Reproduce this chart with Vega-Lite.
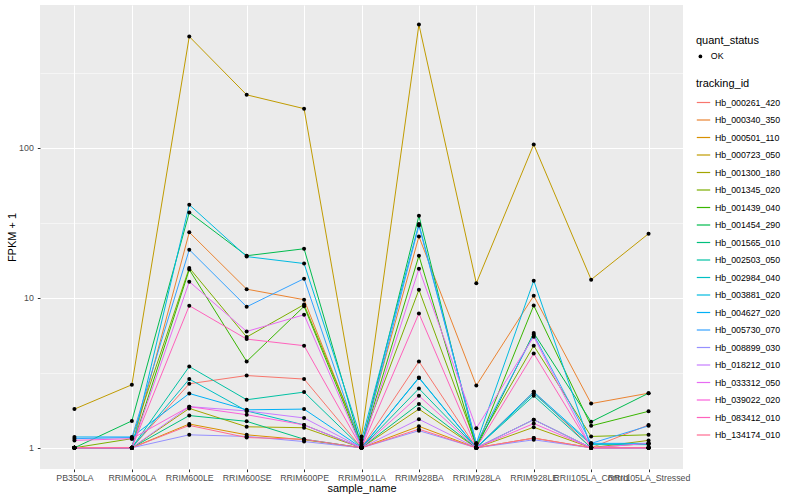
{
"$schema":"https://vega.github.io/schema/vega-lite/v6.json",
"width":643,"height":464,
"autosize":{"type":"none"},
"padding":{"left":40,"top":5,"right":117,"bottom":31},
"background":"white",
"config":{
 "font":"Liberation Sans",
 "view":{"fill":"#EBEBEB","stroke":null},
 "axis":{"domain":false,"tickColor":"#333333","tickSize":2.7,"labelColor":"#4D4D4D","labelFontSize":8.8,"titleFontSize":11,"titleFontWeight":"normal","titleColor":"black","gridColor":"white","labelPadding":2},
 "legend":{"labelFontSize":8.8,"titleFontSize":11,"titleFontWeight":"normal","labelColor":"black","titleColor":"black"}
},
"data":{"values":[
{"tracking_id":"Hb_000261_420","sample_name":"PB350LA","fpkm":1.0,"quant_status":"OK"},
{"tracking_id":"Hb_000261_420","sample_name":"RRIM600LA","fpkm":1.0,"quant_status":"OK"},
{"tracking_id":"Hb_000261_420","sample_name":"RRIM600LE","fpkm":2.67,"quant_status":"OK"},
{"tracking_id":"Hb_000261_420","sample_name":"RRIM600SE","fpkm":3.03,"quant_status":"OK"},
{"tracking_id":"Hb_000261_420","sample_name":"RRIM600PE","fpkm":2.87,"quant_status":"OK"},
{"tracking_id":"Hb_000261_420","sample_name":"RRIM901LA","fpkm":1.0,"quant_status":"OK"},
{"tracking_id":"Hb_000261_420","sample_name":"RRIM928BA","fpkm":3.76,"quant_status":"OK"},
{"tracking_id":"Hb_000261_420","sample_name":"RRIM928LA","fpkm":1.0,"quant_status":"OK"},
{"tracking_id":"Hb_000261_420","sample_name":"RRIM928LE","fpkm":2.36,"quant_status":"OK"},
{"tracking_id":"Hb_000261_420","sample_name":"RRII105LA_Control","fpkm":1.0,"quant_status":"OK"},
{"tracking_id":"Hb_000261_420","sample_name":"RRII105LA_Stressed","fpkm":1.42,"quant_status":"OK"},
{"tracking_id":"Hb_000340_350","sample_name":"PB350LA","fpkm":1.0,"quant_status":"OK"},
{"tracking_id":"Hb_000340_350","sample_name":"RRIM600LA","fpkm":1.0,"quant_status":"OK"},
{"tracking_id":"Hb_000340_350","sample_name":"RRIM600LE","fpkm":27.3,"quant_status":"OK"},
{"tracking_id":"Hb_000340_350","sample_name":"RRIM600SE","fpkm":11.4,"quant_status":"OK"},
{"tracking_id":"Hb_000340_350","sample_name":"RRIM600PE","fpkm":9.7,"quant_status":"OK"},
{"tracking_id":"Hb_000340_350","sample_name":"RRIM901LA","fpkm":1.05,"quant_status":"OK"},
{"tracking_id":"Hb_000340_350","sample_name":"RRIM928BA","fpkm":25.6,"quant_status":"OK"},
{"tracking_id":"Hb_000340_350","sample_name":"RRIM928LA","fpkm":2.6,"quant_status":"OK"},
{"tracking_id":"Hb_000340_350","sample_name":"RRIM928LE","fpkm":10.3,"quant_status":"OK"},
{"tracking_id":"Hb_000340_350","sample_name":"RRII105LA_Control","fpkm":1.97,"quant_status":"OK"},
{"tracking_id":"Hb_000340_350","sample_name":"RRII105LA_Stressed","fpkm":2.31,"quant_status":"OK"},
{"tracking_id":"Hb_000501_110","sample_name":"PB350LA","fpkm":1.0,"quant_status":"OK"},
{"tracking_id":"Hb_000501_110","sample_name":"RRIM600LA","fpkm":1.0,"quant_status":"OK"},
{"tracking_id":"Hb_000501_110","sample_name":"RRIM600LE","fpkm":1.44,"quant_status":"OK"},
{"tracking_id":"Hb_000501_110","sample_name":"RRIM600SE","fpkm":1.22,"quant_status":"OK"},
{"tracking_id":"Hb_000501_110","sample_name":"RRIM600PE","fpkm":1.13,"quant_status":"OK"},
{"tracking_id":"Hb_000501_110","sample_name":"RRIM901LA","fpkm":1.0,"quant_status":"OK"},
{"tracking_id":"Hb_000501_110","sample_name":"RRIM928BA","fpkm":1.39,"quant_status":"OK"},
{"tracking_id":"Hb_000501_110","sample_name":"RRIM928LA","fpkm":1.0,"quant_status":"OK"},
{"tracking_id":"Hb_000501_110","sample_name":"RRIM928LE","fpkm":1.16,"quant_status":"OK"},
{"tracking_id":"Hb_000501_110","sample_name":"RRII105LA_Control","fpkm":1.0,"quant_status":"OK"},
{"tracking_id":"Hb_000501_110","sample_name":"RRII105LA_Stressed","fpkm":1.07,"quant_status":"OK"},
{"tracking_id":"Hb_000723_050","sample_name":"PB350LA","fpkm":1.81,"quant_status":"OK"},
{"tracking_id":"Hb_000723_050","sample_name":"RRIM600LA","fpkm":2.63,"quant_status":"OK"},
{"tracking_id":"Hb_000723_050","sample_name":"RRIM600LE","fpkm":550,"quant_status":"OK"},
{"tracking_id":"Hb_000723_050","sample_name":"RRIM600SE","fpkm":225,"quant_status":"OK"},
{"tracking_id":"Hb_000723_050","sample_name":"RRIM600PE","fpkm":182,"quant_status":"OK"},
{"tracking_id":"Hb_000723_050","sample_name":"RRIM901LA","fpkm":1.19,"quant_status":"OK"},
{"tracking_id":"Hb_000723_050","sample_name":"RRIM928BA","fpkm":661,"quant_status":"OK"},
{"tracking_id":"Hb_000723_050","sample_name":"RRIM928LA","fpkm":12.5,"quant_status":"OK"},
{"tracking_id":"Hb_000723_050","sample_name":"RRIM928LE","fpkm":105,"quant_status":"OK"},
{"tracking_id":"Hb_000723_050","sample_name":"RRII105LA_Control","fpkm":13.2,"quant_status":"OK"},
{"tracking_id":"Hb_000723_050","sample_name":"RRII105LA_Stressed","fpkm":26.7,"quant_status":"OK"},
{"tracking_id":"Hb_001300_180","sample_name":"PB350LA","fpkm":1.0,"quant_status":"OK"},
{"tracking_id":"Hb_001300_180","sample_name":"RRIM600LA","fpkm":1.0,"quant_status":"OK"},
{"tracking_id":"Hb_001300_180","sample_name":"RRIM600LE","fpkm":1.83,"quant_status":"OK"},
{"tracking_id":"Hb_001300_180","sample_name":"RRIM600SE","fpkm":1.38,"quant_status":"OK"},
{"tracking_id":"Hb_001300_180","sample_name":"RRIM600PE","fpkm":1.36,"quant_status":"OK"},
{"tracking_id":"Hb_001300_180","sample_name":"RRIM901LA","fpkm":1.0,"quant_status":"OK"},
{"tracking_id":"Hb_001300_180","sample_name":"RRIM928BA","fpkm":1.81,"quant_status":"OK"},
{"tracking_id":"Hb_001300_180","sample_name":"RRIM928LA","fpkm":1.0,"quant_status":"OK"},
{"tracking_id":"Hb_001300_180","sample_name":"RRIM928LE","fpkm":1.37,"quant_status":"OK"},
{"tracking_id":"Hb_001300_180","sample_name":"RRII105LA_Control","fpkm":1.0,"quant_status":"OK"},
{"tracking_id":"Hb_001300_180","sample_name":"RRII105LA_Stressed","fpkm":1.12,"quant_status":"OK"},
{"tracking_id":"Hb_001345_020","sample_name":"PB350LA","fpkm":1.0,"quant_status":"OK"},
{"tracking_id":"Hb_001345_020","sample_name":"RRIM600LA","fpkm":1.15,"quant_status":"OK"},
{"tracking_id":"Hb_001345_020","sample_name":"RRIM600LE","fpkm":15.8,"quant_status":"OK"},
{"tracking_id":"Hb_001345_020","sample_name":"RRIM600SE","fpkm":5.47,"quant_status":"OK"},
{"tracking_id":"Hb_001345_020","sample_name":"RRIM600PE","fpkm":9.0,"quant_status":"OK"},
{"tracking_id":"Hb_001345_020","sample_name":"RRIM901LA","fpkm":1.08,"quant_status":"OK"},
{"tracking_id":"Hb_001345_020","sample_name":"RRIM928BA","fpkm":11.3,"quant_status":"OK"},
{"tracking_id":"Hb_001345_020","sample_name":"RRIM928LA","fpkm":1.05,"quant_status":"OK"},
{"tracking_id":"Hb_001345_020","sample_name":"RRIM928LE","fpkm":4.79,"quant_status":"OK"},
{"tracking_id":"Hb_001345_020","sample_name":"RRII105LA_Control","fpkm":1.19,"quant_status":"OK"},
{"tracking_id":"Hb_001345_020","sample_name":"RRII105LA_Stressed","fpkm":1.22,"quant_status":"OK"},
{"tracking_id":"Hb_001439_040","sample_name":"PB350LA","fpkm":1.0,"quant_status":"OK"},
{"tracking_id":"Hb_001439_040","sample_name":"RRIM600LA","fpkm":1.0,"quant_status":"OK"},
{"tracking_id":"Hb_001439_040","sample_name":"RRIM600LE","fpkm":15.4,"quant_status":"OK"},
{"tracking_id":"Hb_001439_040","sample_name":"RRIM600SE","fpkm":3.76,"quant_status":"OK"},
{"tracking_id":"Hb_001439_040","sample_name":"RRIM600PE","fpkm":8.76,"quant_status":"OK"},
{"tracking_id":"Hb_001439_040","sample_name":"RRIM901LA","fpkm":1.02,"quant_status":"OK"},
{"tracking_id":"Hb_001439_040","sample_name":"RRIM928BA","fpkm":19.05,"quant_status":"OK"},
{"tracking_id":"Hb_001439_040","sample_name":"RRIM928LA","fpkm":1.0,"quant_status":"OK"},
{"tracking_id":"Hb_001439_040","sample_name":"RRIM928LE","fpkm":8.88,"quant_status":"OK"},
{"tracking_id":"Hb_001439_040","sample_name":"RRII105LA_Control","fpkm":1.4,"quant_status":"OK"},
{"tracking_id":"Hb_001439_040","sample_name":"RRII105LA_Stressed","fpkm":1.75,"quant_status":"OK"},
{"tracking_id":"Hb_001454_290","sample_name":"PB350LA","fpkm":1.0,"quant_status":"OK"},
{"tracking_id":"Hb_001454_290","sample_name":"RRIM600LA","fpkm":1.51,"quant_status":"OK"},
{"tracking_id":"Hb_001454_290","sample_name":"RRIM600LE","fpkm":37.0,"quant_status":"OK"},
{"tracking_id":"Hb_001454_290","sample_name":"RRIM600SE","fpkm":19.05,"quant_status":"OK"},
{"tracking_id":"Hb_001454_290","sample_name":"RRIM600PE","fpkm":21.2,"quant_status":"OK"},
{"tracking_id":"Hb_001454_290","sample_name":"RRIM901LA","fpkm":1.02,"quant_status":"OK"},
{"tracking_id":"Hb_001454_290","sample_name":"RRIM928BA","fpkm":35.2,"quant_status":"OK"},
{"tracking_id":"Hb_001454_290","sample_name":"RRIM928LA","fpkm":1.0,"quant_status":"OK"},
{"tracking_id":"Hb_001454_290","sample_name":"RRIM928LE","fpkm":5.82,"quant_status":"OK"},
{"tracking_id":"Hb_001454_290","sample_name":"RRII105LA_Control","fpkm":1.49,"quant_status":"OK"},
{"tracking_id":"Hb_001454_290","sample_name":"RRII105LA_Stressed","fpkm":2.31,"quant_status":"OK"},
{"tracking_id":"Hb_001565_010","sample_name":"PB350LA","fpkm":1.0,"quant_status":"OK"},
{"tracking_id":"Hb_001565_010","sample_name":"RRIM600LA","fpkm":1.0,"quant_status":"OK"},
{"tracking_id":"Hb_001565_010","sample_name":"RRIM600LE","fpkm":1.64,"quant_status":"OK"},
{"tracking_id":"Hb_001565_010","sample_name":"RRIM600SE","fpkm":1.5,"quant_status":"OK"},
{"tracking_id":"Hb_001565_010","sample_name":"RRIM600PE","fpkm":1.14,"quant_status":"OK"},
{"tracking_id":"Hb_001565_010","sample_name":"RRIM901LA","fpkm":1.0,"quant_status":"OK"},
{"tracking_id":"Hb_001565_010","sample_name":"RRIM928BA","fpkm":1.96,"quant_status":"OK"},
{"tracking_id":"Hb_001565_010","sample_name":"RRIM928LA","fpkm":1.0,"quant_status":"OK"},
{"tracking_id":"Hb_001565_010","sample_name":"RRIM928LE","fpkm":1.54,"quant_status":"OK"},
{"tracking_id":"Hb_001565_010","sample_name":"RRII105LA_Control","fpkm":1.0,"quant_status":"OK"},
{"tracking_id":"Hb_001565_010","sample_name":"RRII105LA_Stressed","fpkm":1.0,"quant_status":"OK"},
{"tracking_id":"Hb_002503_050","sample_name":"PB350LA","fpkm":1.0,"quant_status":"OK"},
{"tracking_id":"Hb_002503_050","sample_name":"RRIM600LA","fpkm":1.0,"quant_status":"OK"},
{"tracking_id":"Hb_002503_050","sample_name":"RRIM600LE","fpkm":3.48,"quant_status":"OK"},
{"tracking_id":"Hb_002503_050","sample_name":"RRIM600SE","fpkm":2.09,"quant_status":"OK"},
{"tracking_id":"Hb_002503_050","sample_name":"RRIM600PE","fpkm":2.35,"quant_status":"OK"},
{"tracking_id":"Hb_002503_050","sample_name":"RRIM901LA","fpkm":1.0,"quant_status":"OK"},
{"tracking_id":"Hb_002503_050","sample_name":"RRIM928BA","fpkm":2.48,"quant_status":"OK"},
{"tracking_id":"Hb_002503_050","sample_name":"RRIM928LA","fpkm":1.0,"quant_status":"OK"},
{"tracking_id":"Hb_002503_050","sample_name":"RRIM928LE","fpkm":2.22,"quant_status":"OK"},
{"tracking_id":"Hb_002503_050","sample_name":"RRII105LA_Control","fpkm":1.0,"quant_status":"OK"},
{"tracking_id":"Hb_002503_050","sample_name":"RRII105LA_Stressed","fpkm":1.0,"quant_status":"OK"},
{"tracking_id":"Hb_002984_040","sample_name":"PB350LA","fpkm":1.0,"quant_status":"OK"},
{"tracking_id":"Hb_002984_040","sample_name":"RRIM600LA","fpkm":1.0,"quant_status":"OK"},
{"tracking_id":"Hb_002984_040","sample_name":"RRIM600LE","fpkm":2.87,"quant_status":"OK"},
{"tracking_id":"Hb_002984_040","sample_name":"RRIM600SE","fpkm":1.76,"quant_status":"OK"},
{"tracking_id":"Hb_002984_040","sample_name":"RRIM600PE","fpkm":1.42,"quant_status":"OK"},
{"tracking_id":"Hb_002984_040","sample_name":"RRIM901LA","fpkm":1.0,"quant_status":"OK"},
{"tracking_id":"Hb_002984_040","sample_name":"RRIM928BA","fpkm":2.94,"quant_status":"OK"},
{"tracking_id":"Hb_002984_040","sample_name":"RRIM928LA","fpkm":1.0,"quant_status":"OK"},
{"tracking_id":"Hb_002984_040","sample_name":"RRIM928LE","fpkm":2.3,"quant_status":"OK"},
{"tracking_id":"Hb_002984_040","sample_name":"RRII105LA_Control","fpkm":1.05,"quant_status":"OK"},
{"tracking_id":"Hb_002984_040","sample_name":"RRII105LA_Stressed","fpkm":1.05,"quant_status":"OK"},
{"tracking_id":"Hb_003881_020","sample_name":"PB350LA","fpkm":1.0,"quant_status":"OK"},
{"tracking_id":"Hb_003881_020","sample_name":"RRIM600LA","fpkm":1.0,"quant_status":"OK"},
{"tracking_id":"Hb_003881_020","sample_name":"RRIM600LE","fpkm":41.7,"quant_status":"OK"},
{"tracking_id":"Hb_003881_020","sample_name":"RRIM600SE","fpkm":18.8,"quant_status":"OK"},
{"tracking_id":"Hb_003881_020","sample_name":"RRIM600PE","fpkm":16.9,"quant_status":"OK"},
{"tracking_id":"Hb_003881_020","sample_name":"RRIM901LA","fpkm":1.13,"quant_status":"OK"},
{"tracking_id":"Hb_003881_020","sample_name":"RRIM928BA","fpkm":31.0,"quant_status":"OK"},
{"tracking_id":"Hb_003881_020","sample_name":"RRIM928LA","fpkm":1.07,"quant_status":"OK"},
{"tracking_id":"Hb_003881_020","sample_name":"RRIM928LE","fpkm":13.0,"quant_status":"OK"},
{"tracking_id":"Hb_003881_020","sample_name":"RRII105LA_Control","fpkm":1.0,"quant_status":"OK"},
{"tracking_id":"Hb_003881_020","sample_name":"RRII105LA_Stressed","fpkm":1.0,"quant_status":"OK"},
{"tracking_id":"Hb_004627_020","sample_name":"PB350LA","fpkm":1.18,"quant_status":"OK"},
{"tracking_id":"Hb_004627_020","sample_name":"RRIM600LA","fpkm":1.18,"quant_status":"OK"},
{"tracking_id":"Hb_004627_020","sample_name":"RRIM600LE","fpkm":2.3,"quant_status":"OK"},
{"tracking_id":"Hb_004627_020","sample_name":"RRIM600SE","fpkm":1.79,"quant_status":"OK"},
{"tracking_id":"Hb_004627_020","sample_name":"RRIM600PE","fpkm":1.81,"quant_status":"OK"},
{"tracking_id":"Hb_004627_020","sample_name":"RRIM901LA","fpkm":1.0,"quant_status":"OK"},
{"tracking_id":"Hb_004627_020","sample_name":"RRIM928BA","fpkm":2.92,"quant_status":"OK"},
{"tracking_id":"Hb_004627_020","sample_name":"RRIM928LA","fpkm":1.0,"quant_status":"OK"},
{"tracking_id":"Hb_004627_020","sample_name":"RRIM928LE","fpkm":2.36,"quant_status":"OK"},
{"tracking_id":"Hb_004627_020","sample_name":"RRII105LA_Control","fpkm":1.07,"quant_status":"OK"},
{"tracking_id":"Hb_004627_020","sample_name":"RRII105LA_Stressed","fpkm":1.07,"quant_status":"OK"},
{"tracking_id":"Hb_005730_070","sample_name":"PB350LA","fpkm":1.15,"quant_status":"OK"},
{"tracking_id":"Hb_005730_070","sample_name":"RRIM600LA","fpkm":1.17,"quant_status":"OK"},
{"tracking_id":"Hb_005730_070","sample_name":"RRIM600LE","fpkm":20.9,"quant_status":"OK"},
{"tracking_id":"Hb_005730_070","sample_name":"RRIM600SE","fpkm":8.7,"quant_status":"OK"},
{"tracking_id":"Hb_005730_070","sample_name":"RRIM600PE","fpkm":13.4,"quant_status":"OK"},
{"tracking_id":"Hb_005730_070","sample_name":"RRIM901LA","fpkm":1.0,"quant_status":"OK"},
{"tracking_id":"Hb_005730_070","sample_name":"RRIM928BA","fpkm":30.3,"quant_status":"OK"},
{"tracking_id":"Hb_005730_070","sample_name":"RRIM928LA","fpkm":1.07,"quant_status":"OK"},
{"tracking_id":"Hb_005730_070","sample_name":"RRIM928LE","fpkm":5.66,"quant_status":"OK"},
{"tracking_id":"Hb_005730_070","sample_name":"RRII105LA_Control","fpkm":1.07,"quant_status":"OK"},
{"tracking_id":"Hb_005730_070","sample_name":"RRII105LA_Stressed","fpkm":1.4,"quant_status":"OK"},
{"tracking_id":"Hb_008899_030","sample_name":"PB350LA","fpkm":1.0,"quant_status":"OK"},
{"tracking_id":"Hb_008899_030","sample_name":"RRIM600LA","fpkm":1.0,"quant_status":"OK"},
{"tracking_id":"Hb_008899_030","sample_name":"RRIM600LE","fpkm":1.22,"quant_status":"OK"},
{"tracking_id":"Hb_008899_030","sample_name":"RRIM600SE","fpkm":1.19,"quant_status":"OK"},
{"tracking_id":"Hb_008899_030","sample_name":"RRIM600PE","fpkm":1.1,"quant_status":"OK"},
{"tracking_id":"Hb_008899_030","sample_name":"RRIM901LA","fpkm":1.0,"quant_status":"OK"},
{"tracking_id":"Hb_008899_030","sample_name":"RRIM928BA","fpkm":1.3,"quant_status":"OK"},
{"tracking_id":"Hb_008899_030","sample_name":"RRIM928LA","fpkm":1.0,"quant_status":"OK"},
{"tracking_id":"Hb_008899_030","sample_name":"RRIM928LE","fpkm":1.13,"quant_status":"OK"},
{"tracking_id":"Hb_008899_030","sample_name":"RRII105LA_Control","fpkm":1.0,"quant_status":"OK"},
{"tracking_id":"Hb_008899_030","sample_name":"RRII105LA_Stressed","fpkm":1.0,"quant_status":"OK"},
{"tracking_id":"Hb_018212_010","sample_name":"PB350LA","fpkm":1.0,"quant_status":"OK"},
{"tracking_id":"Hb_018212_010","sample_name":"RRIM600LA","fpkm":1.0,"quant_status":"OK"},
{"tracking_id":"Hb_018212_010","sample_name":"RRIM600LE","fpkm":1.88,"quant_status":"OK"},
{"tracking_id":"Hb_018212_010","sample_name":"RRIM600SE","fpkm":1.76,"quant_status":"OK"},
{"tracking_id":"Hb_018212_010","sample_name":"RRIM600PE","fpkm":1.58,"quant_status":"OK"},
{"tracking_id":"Hb_018212_010","sample_name":"RRIM901LA","fpkm":1.0,"quant_status":"OK"},
{"tracking_id":"Hb_018212_010","sample_name":"RRIM928BA","fpkm":1.55,"quant_status":"OK"},
{"tracking_id":"Hb_018212_010","sample_name":"RRIM928LA","fpkm":1.0,"quant_status":"OK"},
{"tracking_id":"Hb_018212_010","sample_name":"RRIM928LE","fpkm":1.54,"quant_status":"OK"},
{"tracking_id":"Hb_018212_010","sample_name":"RRII105LA_Control","fpkm":1.0,"quant_status":"OK"},
{"tracking_id":"Hb_018212_010","sample_name":"RRII105LA_Stressed","fpkm":1.0,"quant_status":"OK"},
{"tracking_id":"Hb_033312_050","sample_name":"PB350LA","fpkm":1.0,"quant_status":"OK"},
{"tracking_id":"Hb_033312_050","sample_name":"RRIM600LA","fpkm":1.0,"quant_status":"OK"},
{"tracking_id":"Hb_033312_050","sample_name":"RRIM600LE","fpkm":12.8,"quant_status":"OK"},
{"tracking_id":"Hb_033312_050","sample_name":"RRIM600SE","fpkm":5.96,"quant_status":"OK"},
{"tracking_id":"Hb_033312_050","sample_name":"RRIM600PE","fpkm":7.7,"quant_status":"OK"},
{"tracking_id":"Hb_033312_050","sample_name":"RRIM901LA","fpkm":1.0,"quant_status":"OK"},
{"tracking_id":"Hb_033312_050","sample_name":"RRIM928BA","fpkm":15.6,"quant_status":"OK"},
{"tracking_id":"Hb_033312_050","sample_name":"RRIM928LA","fpkm":1.35,"quant_status":"OK"},
{"tracking_id":"Hb_033312_050","sample_name":"RRIM928LE","fpkm":5.5,"quant_status":"OK"},
{"tracking_id":"Hb_033312_050","sample_name":"RRII105LA_Control","fpkm":1.0,"quant_status":"OK"},
{"tracking_id":"Hb_033312_050","sample_name":"RRII105LA_Stressed","fpkm":1.07,"quant_status":"OK"},
{"tracking_id":"Hb_039022_020","sample_name":"PB350LA","fpkm":1.12,"quant_status":"OK"},
{"tracking_id":"Hb_039022_020","sample_name":"RRIM600LA","fpkm":1.15,"quant_status":"OK"},
{"tracking_id":"Hb_039022_020","sample_name":"RRIM600LE","fpkm":1.88,"quant_status":"OK"},
{"tracking_id":"Hb_039022_020","sample_name":"RRIM600SE","fpkm":1.66,"quant_status":"OK"},
{"tracking_id":"Hb_039022_020","sample_name":"RRIM600PE","fpkm":1.42,"quant_status":"OK"},
{"tracking_id":"Hb_039022_020","sample_name":"RRIM901LA","fpkm":1.0,"quant_status":"OK"},
{"tracking_id":"Hb_039022_020","sample_name":"RRIM928BA","fpkm":2.22,"quant_status":"OK"},
{"tracking_id":"Hb_039022_020","sample_name":"RRIM928LA","fpkm":1.0,"quant_status":"OK"},
{"tracking_id":"Hb_039022_020","sample_name":"RRIM928LE","fpkm":1.45,"quant_status":"OK"},
{"tracking_id":"Hb_039022_020","sample_name":"RRII105LA_Control","fpkm":1.0,"quant_status":"OK"},
{"tracking_id":"Hb_039022_020","sample_name":"RRII105LA_Stressed","fpkm":1.0,"quant_status":"OK"},
{"tracking_id":"Hb_083412_010","sample_name":"PB350LA","fpkm":1.0,"quant_status":"OK"},
{"tracking_id":"Hb_083412_010","sample_name":"RRIM600LA","fpkm":1.0,"quant_status":"OK"},
{"tracking_id":"Hb_083412_010","sample_name":"RRIM600LE","fpkm":8.85,"quant_status":"OK"},
{"tracking_id":"Hb_083412_010","sample_name":"RRIM600SE","fpkm":5.3,"quant_status":"OK"},
{"tracking_id":"Hb_083412_010","sample_name":"RRIM600PE","fpkm":4.79,"quant_status":"OK"},
{"tracking_id":"Hb_083412_010","sample_name":"RRIM901LA","fpkm":1.0,"quant_status":"OK"},
{"tracking_id":"Hb_083412_010","sample_name":"RRIM928BA","fpkm":7.86,"quant_status":"OK"},
{"tracking_id":"Hb_083412_010","sample_name":"RRIM928LA","fpkm":1.0,"quant_status":"OK"},
{"tracking_id":"Hb_083412_010","sample_name":"RRIM928LE","fpkm":4.25,"quant_status":"OK"},
{"tracking_id":"Hb_083412_010","sample_name":"RRII105LA_Control","fpkm":1.0,"quant_status":"OK"},
{"tracking_id":"Hb_083412_010","sample_name":"RRII105LA_Stressed","fpkm":1.0,"quant_status":"OK"},
{"tracking_id":"Hb_134174_010","sample_name":"PB350LA","fpkm":1.0,"quant_status":"OK"},
{"tracking_id":"Hb_134174_010","sample_name":"RRIM600LA","fpkm":1.0,"quant_status":"OK"},
{"tracking_id":"Hb_134174_010","sample_name":"RRIM600LE","fpkm":1.41,"quant_status":"OK"},
{"tracking_id":"Hb_134174_010","sample_name":"RRIM600SE","fpkm":1.17,"quant_status":"OK"},
{"tracking_id":"Hb_134174_010","sample_name":"RRIM600PE","fpkm":1.14,"quant_status":"OK"},
{"tracking_id":"Hb_134174_010","sample_name":"RRIM901LA","fpkm":1.0,"quant_status":"OK"},
{"tracking_id":"Hb_134174_010","sample_name":"RRIM928BA","fpkm":1.33,"quant_status":"OK"},
{"tracking_id":"Hb_134174_010","sample_name":"RRIM928LA","fpkm":1.0,"quant_status":"OK"},
{"tracking_id":"Hb_134174_010","sample_name":"RRIM928LE","fpkm":1.16,"quant_status":"OK"},
{"tracking_id":"Hb_134174_010","sample_name":"RRII105LA_Control","fpkm":1.0,"quant_status":"OK"},
{"tracking_id":"Hb_134174_010","sample_name":"RRII105LA_Stressed","fpkm":1.0,"quant_status":"OK"}
]},
"encoding":{
 "x":{"field":"sample_name","type":"nominal","sort":null,
  "scale":{"type":"point","padding":0.6},
  "axis":{"title":"sample_name","labelAngle":0,"labelOverlap":false,"grid":true,"gridWidth":1.07,"titlePadding":0}},
 "y":{"field":"fpkm","type":"quantitative",
  "scale":{"type":"log","domain":[0.722,893],"nice":false},
  "axis":{"title":"FPKM + 1","values":[1,3.1623,10,31.623,100,316.23],
   "labelExpr":"(datum.value==1||datum.value==10||datum.value==100) ? datum.value : ''",
   "labelPadding":4,
   "gridWidth":{"condition":{"test":"datum.value==1||datum.value==10||datum.value==100","value":1.07},"value":0.53},
   "tickOpacity":{"condition":{"test":"datum.value==1||datum.value==10||datum.value==100","value":1},"value":0},
   "titlePadding":1}}
},
"layer":[
 {"mark":{"type":"line","strokeWidth":1},
  "encoding":{"color":{"field":"tracking_id","type":"nominal",
   "scale":{"range":["#F8766D","#EA8331","#D89000","#C09B00","#A3A500","#7CAE00","#39B600","#00BB4E","#00BF7D","#00C1A3","#00BFC4","#00BAE0","#00B0F6","#35A2FF","#9590FF","#C77CFF","#E76BF3","#FA62DB","#FF62BC","#FF6C91"]},
   "legend":{"title":"tracking_id","orient":"none","legendX":656,"legendY":73,"symbolType":"stroke","symbolStrokeWidth":1.2,"symbolSize":180,"rowPadding":4.5,"labelOffset":4,"titlePadding":6}}}},
 {"mark":{"type":"point","filled":true,"color":"black","opacity":1,"size":16},
  "encoding":{"shape":{"field":"quant_status","type":"nominal","scale":{"range":["circle"]},
   "legend":{"title":"quant_status","orient":"none","legendX":656,"legendY":30,"symbolFillColor":"black","symbolStrokeColor":"black","symbolSize":14,"titlePadding":6,"labelOffset":6}}}}
]
}
